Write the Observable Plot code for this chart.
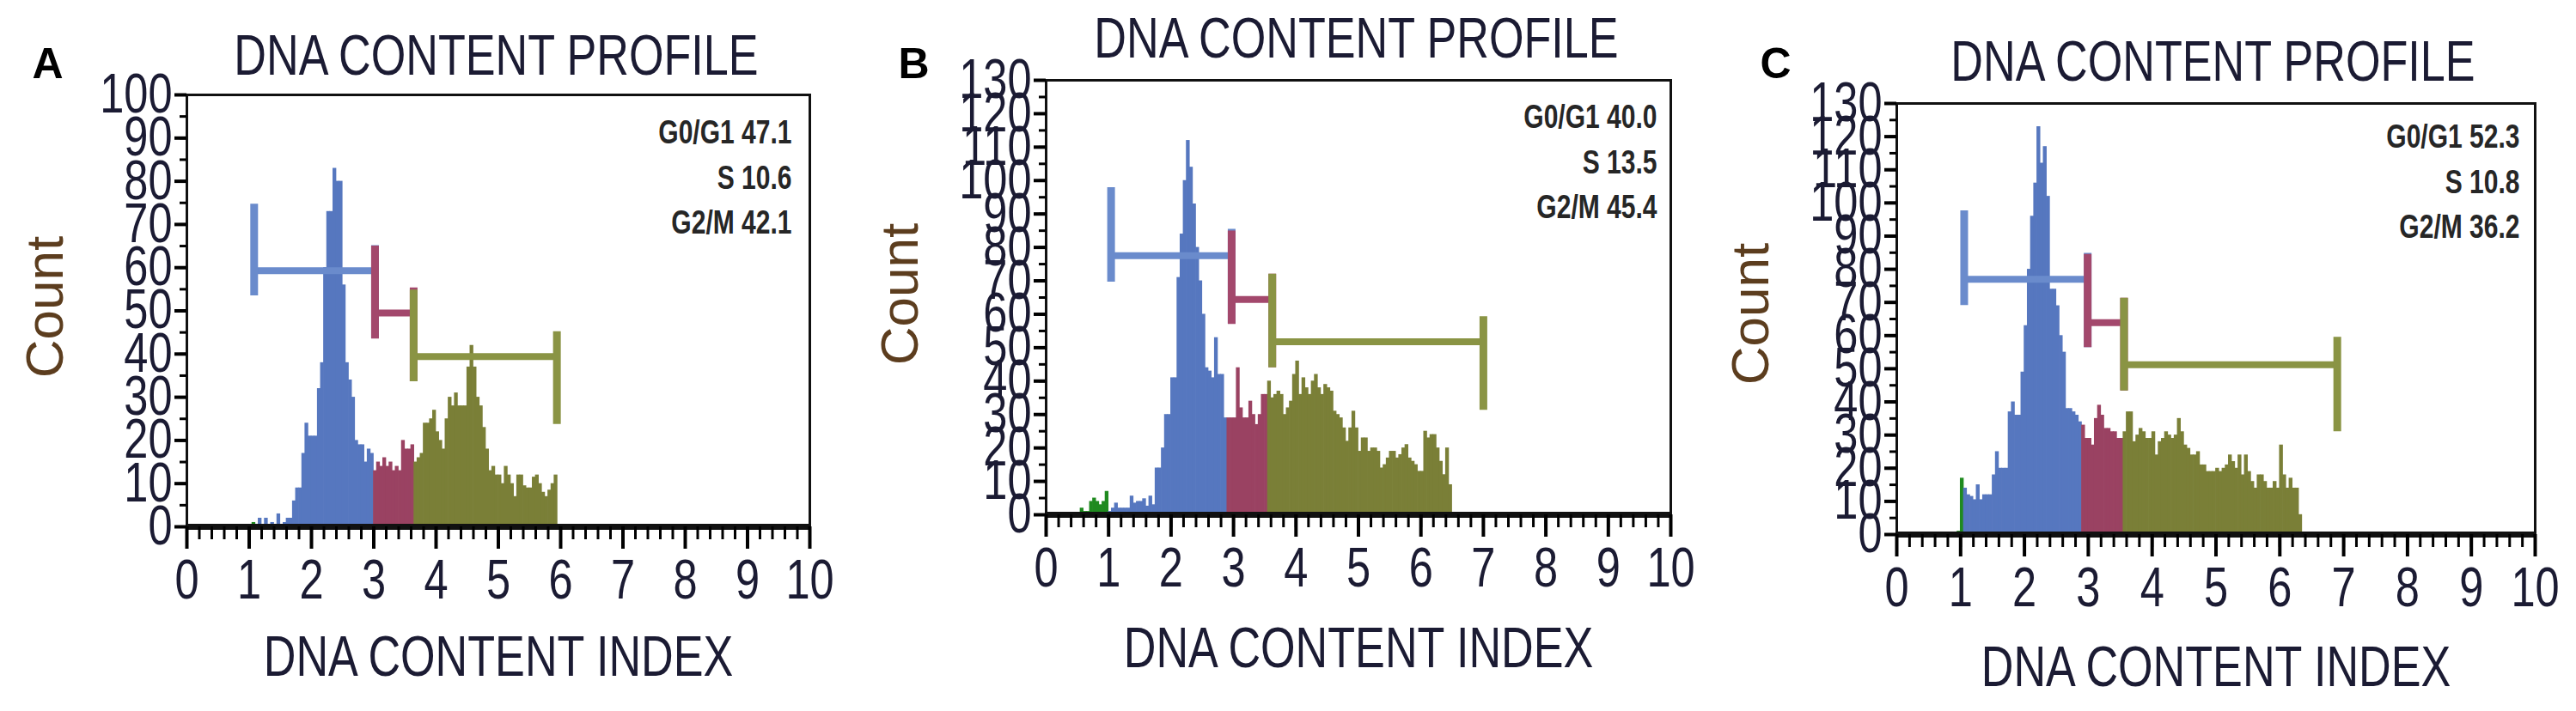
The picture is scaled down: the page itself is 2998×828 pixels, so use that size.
<!DOCTYPE html>
<html><head><meta charset="utf-8">
<script src="https://cdn.jsdelivr.net/npm/d3@7"></script>
<script src="https://cdn.jsdelivr.net/npm/@observablehq/plot@0.6"></script>
<style>
body{margin:0;background:#fff;}
#wrap{position:relative;width:2998px;height:828px;overflow:hidden;background:#fff;}
#wrap > svg{position:absolute;top:0;}
</style></head><body><div id="wrap"></div>
<script>
// ---------- shared ----------
const binWidth = 0.05;
const phases = ["Debris", "G0/G1", "S", "G2/M"];
const phaseColors = ["#1f8a1f", "#5677bf", "#9a4262", "#7a7f37"];
const gateColors = {"G0/G1": "#6a8bcc", "S": "#a3486c", "G2/M": "#8a9444"};
const xTicks = [0, 1, 2, 3, 4, 5, 6, 7, 8, 9, 10];
const yTicks100 = [0, 10, 20, 30, 40, 50, 60, 70, 80, 90, 100];
const yTicks130 = [0, 10, 20, 30, 40, 50, 60, 70, 80, 90, 100, 110, 120, 130];

// ---------- panel A ----------
const aDebrisStart = 1.05, aDebris = [1];
const aG1Start = 1.10, aG1 = [0,2,0,2,0,1,0,3,0,1,2,2,6,9,9,17,24,21,21,21,32,38,60,73,73,83,80,80,56,38,34,30,20,19,19,15,18,17];
const aSStart = 3.00, aS = [13,15,14,16,14,15,13,14,13,20,18,18,19];
const aG2Start = 3.65, aG2 = [15,16,17,24,24,25,27,22,20,18,25,30,28,31,28,28,28,37,42,37,30,28,23,18,13,14,12,12,10,14,12,10,7,12,12,9.5,9,9,11.5,12,10,8,7,8.5,10,12];
const aGates = [
  {phase: "G0/G1", x1: 1.08, x2: 3.02, y: 59.3, left: [53.5, 74.7], right: [43.6, 65.1]},
  {phase: "S",     x1: 3.02, x2: 3.64, y: 49.5, left: [43.5, 65.0], right: [33.6, 55.3]},
  {phase: "G2/M",  x1: 3.64, x2: 5.94, y: 39.4, left: [33.6, 54.8], right: [23.7, 45.2]}
];
const aStats = [{label: "G0/G1", value: 47.1}, {label: "S", value: 10.6}, {label: "G2/M", value: 42.1}];

// ---------- panel B ----------
const bDebrisStart = 0.55, bDebris = [2,1,1,4,5,4,3,4,7];
const bG1Start = 1.00, bG1 = [1,2,3.5,2,2,2,2,5.6,3.5,4,4,4.8,2.6,5.6,3,14,14,20,30,30,41,41,71,84,100,112,104,93,80,70,60,44,43,41,53,42,42,29];
const bSStart = 2.90, bS = [29,29,29,44,32,29,29,34,30,27,30,36,36];
const bG2Start = 3.55, bG2 = [40,35,36,37,36,30,32,34,42,46,36,41,38,36,40,42,38,36,39,38,37,31,30,29,26,22,26,31,26,19,23,23,19,20,20,19,14,15,17,19,19,17,18,20,21,17,16,15,13,13,25,23,24,24,20,16,12,20,9];
const bGates = [
  {phase: "G0/G1", x1: 1.04, x2: 2.97, y: 77.5, left: [69.6, 97.9], right: [57.1, 85.4]},
  {phase: "S",     x1: 2.97, x2: 3.62, y: 64.4, left: [57.0, 84.9], right: [44.0, 72.0]},
  {phase: "G2/M",  x1: 3.62, x2: 7.00, y: 51.8, left: [44.0, 72.0], right: [31.3, 59.3]}
];
const bStats = [{label: "G0/G1", value: 40.0}, {label: "S", value: 13.5}, {label: "G2/M", value: 45.4}];

// ---------- panel C ----------
const cDebrisStart = 0.95, cDebris = [1, 17];
const cG1Start = 1.05, cG1 = [14,12,11.5,10.5,15,10.5,12,12,12,18,25,20,20,20,37,40,36,36,49,63,80,96,106,123,112,117,102,74,74,69,60,55,38,38,37,36,34];
const cSStart = 2.90, cS = [33,29,29,27,35,39,36,32,32,31,31,29,29];
const cG2Start = 3.55, cG2 = [31,37,37,28,30,32,31,29,29,31,24,28,29,31,30,29,30,35,31,27,26,24,24,25,21,21,19,19,19,20,19,20,21,24,22,20,24,18,24,19,16,14,18,18,16,14,14,16,14,27,18,14,17,14,14,6];
const cGates = [
  {phase: "G0/G1", x1: 1.056, x2: 2.99, y: 77.0, left: [69.1, 97.6], right: [56.4, 84.8]},
  {phase: "S",     x1: 2.99,  x2: 3.56, y: 63.9, left: [56.4, 84.5], right: [43.3, 71.3]},
  {phase: "G2/M",  x1: 3.56,  x2: 6.90, y: 51.2, left: [43.3, 71.3], right: [31.0, 59.5]}
];
const cStats = [{label: "G0/G1", value: 52.3}, {label: "S", value: 10.8}, {label: "G2/M", value: 36.2}];

// ---------- helpers ----------
function bins(start, counts, phase) {
  return counts.map((c, i) => ({
    x1: +(start + i * binWidth).toFixed(3),
    x2: +(start + (i + 1) * binWidth).toFixed(3),
    count: c, phase
  }));
}

// narrow face is emulated with Liberation Sans (Arial metrics) compressed horizontally
const NARROW = "'Liberation Sans Narrow','Liberation Sans',Arial,sans-serif";
const SANS = "'Liberation Sans',Arial,sans-serif";
const INK = "#1b1b33";

function condense(svg, factor) {
  svg.querySelectorAll("g[font-family*='Narrow'] text").forEach(t => {
    const x = t.getAttribute("x");
    let tr = t.getAttribute("transform") || "";
    if (x !== null && /^-?[\d.]+$/.test(x) && +x !== 0) {
      tr += ` translate(${x},0)`;
      t.removeAttribute("x");
    }
    t.setAttribute("transform", `${tr} scale(${factor},1)`);
  });
}

function panel(cfg) {
  const data = [
    ...bins(cfg.debris[0], cfg.debris[1], "Debris"),
    ...bins(cfg.g1[0], cfg.g1[1], "G0/G1"),
    ...bins(cfg.s[0], cfg.s[1], "S"),
    ...bins(cfg.g2[0], cfg.g2[1], "G2/M")
  ];
  const yMinor = d3.range(0, cfg.yMax + 0.1, 5);
  const xMinor = d3.range(0, 10.01, 0.2).map(v => +v.toFixed(1));
  const gateMarks = [];
  for (const g of cfg.gates) {
    const col = gateColors[g.phase];
    gateMarks.push(
      Plot.ruleY([g], {y: "y", x1: "x1", x2: "x2", stroke: col, strokeWidth: 8}),
      Plot.ruleX([g], {x: "x1", y1: d => d.left[0], y2: d => d.left[1], stroke: col, strokeWidth: 9}),
      Plot.ruleX([g], {x: "x2", y1: d => d.right[0], y2: d => d.right[1], stroke: col, strokeWidth: 9})
    );
  }
  const statLines = cfg.stats.map(d => `${d.label} ${d.value.toFixed(1)}`).join("\n");
  const svg = Plot.plot({
    width: cfg.width, height: 828,
    marginLeft: cfg.ml, marginRight: cfg.mr, marginTop: cfg.mt, marginBottom: cfg.mb,
    style: {background: "transparent", overflow: "visible"},
    x: {domain: [0, 10], label: null},
    y: {domain: [0, cfg.yMax], label: null},
    color: {domain: phases, range: phaseColors},
    marks: [
      Plot.rectY(data, {x1: "x1", x2: "x2", y: "count", fill: "phase", insetLeft: -0.35, insetRight: -0.35}),
      ...gateMarks,
      Plot.frame({stroke: "#111", strokeWidth: 3}),
      Plot.ruleY([0], {stroke: "#111", strokeWidth: 7}),
      Plot.axisX({ticks: xMinor, tickSize: 15, strokeWidth: 3, tickFormat: () => "", label: null}),
      Plot.axisX({ticks: xTicks, tickSize: 26, strokeWidth: 4, tickPadding: 12, fontSize: 64,
        fontFamily: NARROW, fill: INK, tickFormat: d => String(d), label: null}),
      Plot.axisY({ticks: yMinor, tickSize: 8, strokeWidth: 3, tickFormat: () => "", label: null}),
      Plot.axisY({ticks: cfg.yTicks, tickSize: 14, strokeWidth: 4, tickPadding: 3, fontSize: 64,
        fontFamily: NARROW, fill: INK, tickFormat: d => String(d), label: null}),
      Plot.text(["DNA CONTENT PROFILE"], {text: d => d, frameAnchor: "top", dx: cfg.title[0], dy: cfg.title[1],
        textAnchor: "middle", fontSize: 66, fontFamily: NARROW, fill: INK, lineAnchor: "middle"}),
      Plot.text([cfg.letter], {text: d => d, frameAnchor: "top-left", dx: cfg.letterPos[0], dy: cfg.letterPos[1],
        textAnchor: "start", lineAnchor: "middle", fontSize: 50, fontWeight: "bold", fontFamily: SANS, fill: "#000"}),
      Plot.text(["Count"], {text: d => d, frameAnchor: "left", dx: cfg.count[0], dy: cfg.count[1], rotate: -90,
        textAnchor: "middle", lineAnchor: "middle", fontSize: 62, fontFamily: SANS, fill: "#5c3d1e"}),
      Plot.text(["DNA CONTENT INDEX"], {text: d => d, frameAnchor: "bottom", dx: 0, dy: cfg.xlabel,
        textAnchor: "middle", lineAnchor: "middle", fontSize: 66, fontFamily: NARROW, fill: INK}),
      Plot.text([statLines], {text: d => d, frameAnchor: "top-right", dx: cfg.stat[0], dy: cfg.stat[1],
        textAnchor: "end", lineAnchor: "top", lineHeight: 1.37, fontSize: 38, fontWeight: "bold",
        fontFamily: NARROW, fill: "#262626"})
    ]
  });
  condense(svg, 0.79);
  svg.style.left = cfg.left + "px";
  document.getElementById("wrap").appendChild(svg);
}

panel({left: 0, width: 1000, ml: 217, mr: 58, mt: 110, mb: 215, yMax: 100, yTicks: yTicks100,
  debris: [aDebrisStart, aDebris], g1: [aG1Start, aG1], s: [aSStart, aS], g2: [aG2Start, aG2],
  gates: aGates, stats: aStats, letter: "A",
  title: [-2.5, -45], letterPos: [-180, -36], count: [-164, -4.5], xlabel: 152, stat: [-21, 20]});
panel({left: 1000, width: 1000, ml: 217, mr: 56, mt: 93, mb: 229, yMax: 130, yTicks: yTicks130,
  debris: [bDebrisStart, bDebris], g1: [bG1Start, bG1], s: [bSStart, bS], g2: [bG2Start, bG2],
  gates: bGates, stats: bStats, letter: "B",
  title: [-2.5, -47.5], letterPos: [-172, -19], count: [-169, -4], xlabel: 156, stat: [-16, 19]});
panel({left: 2000, width: 998, ml: 207, mr: 48, mt: 120, mb: 206, yMax: 130, yTicks: yTicks130,
  debris: [cDebrisStart, cDebris], g1: [cG1Start, cG1], s: [cSStart, cS], g2: [cG2Start, cG2],
  gates: cGates, stats: cStats, letter: "C",
  title: [-3.5, -47.5], letterPos: [-159, -46], count: [-169, -6], xlabel: 155, stat: [-18, 15]});
</script>
</body></html>
